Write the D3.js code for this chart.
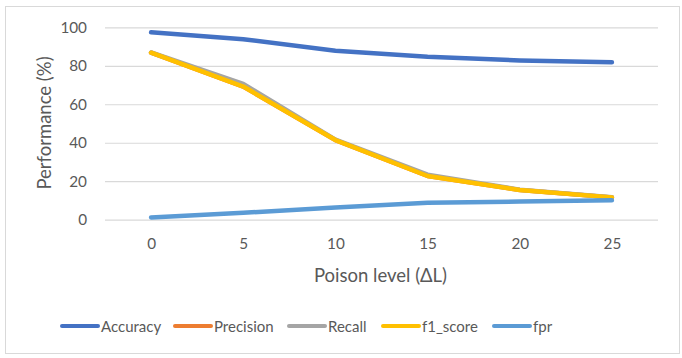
<!DOCTYPE html>
<html><head><meta charset="utf-8">
<script src="https://cdn.jsdelivr.net/npm/d3@7"></script>
<style>
html,body{margin:0;padding:0;background:#fff;}
svg{display:block;}
text{font-family:Lato, "Open Sans", sans-serif;fill:#595959;}
</style></head>
<body>
<svg id="c" width="682" height="358"></svg>
<script>
const categories = [0, 5, 10, 15, 20, 25];
const accuracy  = [97.4, 93.8, 87.8, 84.7, 82.8, 81.8];
const precision = [86.8, 69.2, 41.4, 22.7, 15.4, 11.6];
const recall    = [86.9, 70.6, 41.6, 23.4, 15.6, 11.7];
const f1_score  = [86.8, 69.2, 41.4, 22.7, 15.4, 11.6];
const fpr       = [1.2, 3.6, 6.4, 8.8, 9.4, 10.1];
const yTicks = [0, 20, 40, 60, 80, 100];
const seriesNames = ["Accuracy", "Precision", "Recall", "f1_score", "fpr"];
const seriesValues = [accuracy, precision, recall, f1_score, fpr];
const colors = ["#4472C4", "#ED7D31", "#A5A5A5", "#FFC000", "#5B9BD5"];

const svg = d3.select("#c");
const W = 682, H = 358;
const m = {left:105, right:24, top:27.3, bottom:138.3};
const pw = W - m.left - m.right, ph = H - m.top - m.bottom;

svg.append("rect").attr("x",5.5).attr("y",6.5).attr("width",674).attr("height",347)
  .attr("fill","#fff").attr("stroke","#d9d9d9").attr("stroke-width",1);

const g = svg.append("g").attr("transform",`translate(${m.left},${m.top})`);
const x = d3.scalePoint().domain(categories).range([0,pw]).padding(0.5);
const y = d3.scaleLinear().domain([0,100]).range([ph,0]);

// gridlines
const yAxis = d3.axisLeft(y).tickValues(yTicks).tickSize(-pw).tickPadding(18);
const ya = g.append("g").call(yAxis);
ya.select(".domain").remove();
ya.selectAll(".tick line").attr("stroke","#d9d9d9").attr("stroke-width",1.2);
ya.selectAll(".tick text").attr("font-size","15.3px").attr("fill","#595959").attr("font-family","Lato");

const xAxis = d3.axisBottom(x).tickSize(0).tickPadding(18);
const xa = g.append("g").attr("transform",`translate(0,${ph})`).call(xAxis);
xa.select(".domain").remove();
xa.selectAll(".tick text").attr("font-size","15.3px").attr("fill","#595959").attr("font-family","Lato");

const line = d3.line().x((d,i)=>x(categories[i])).y(d=>y(d));
seriesValues.forEach((vals,k)=>{
  g.append("path").datum(vals).attr("d",line).attr("fill","none")
    .attr("stroke",colors[k]).attr("stroke-width",4.5)
    .attr("stroke-linecap","round").attr("stroke-linejoin","round");
});

// axis titles
svg.append("text").attr("x",380.5).attr("y",281.5).attr("text-anchor","middle")
  .attr("font-size","18.5px").text("Poison level (ΔL)");
svg.append("text").attr("transform","translate(51,123) rotate(-90)").attr("text-anchor","middle")
  .attr("font-size","18.5px").text("Performance (%)");

// legend
const legX = [62, 175, 289, 383, 494];
const lg = svg.append("g");
seriesNames.forEach((n,k)=>{
  lg.append("line").attr("x1",legX[k]).attr("x2",legX[k]+36).attr("y1",326).attr("y2",326)
    .attr("stroke",colors[k]).attr("stroke-width",4).attr("stroke-linecap","round");
  lg.append("text").attr("x",legX[k]+39).attr("y",331.5).attr("font-size","15px").text(n);
});
</script>
</body></html>
